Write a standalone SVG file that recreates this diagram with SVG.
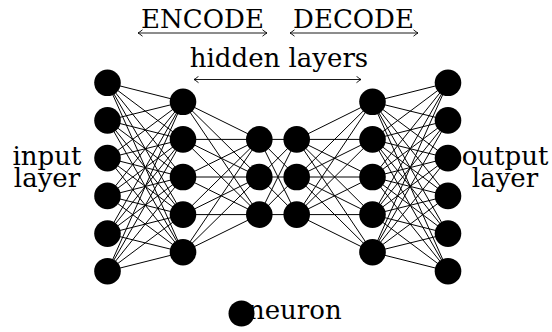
<svg xmlns="http://www.w3.org/2000/svg" width="552" height="332" viewBox="0 0 552 332">
  <style>
    .lbl { font-family: "DejaVu Serif", "Liberation Serif", serif; font-size: 26px; fill: #000; }
    .mid { text-anchor: middle; }
    .edge line { stroke: #000; stroke-width: 1; }
    .neuron { fill: #000; }
    .span { stroke: #000; stroke-width: 0.9; fill: none; marker-start: url(#tip); marker-end: url(#tip); }
  </style>
  <defs>
    <marker id="tip" markerUnits="userSpaceOnUse" viewBox="-6 -4 7 8" refX="0" refY="0" markerWidth="7" markerHeight="8" orient="auto-start-reverse">
      <path d="M-4.5,-3.2 Q-1.5,-0.8 0,0 Q-1.5,0.8 -4.5,3.2" fill="none" stroke="#000" stroke-width="0.9"/>
    </marker>
  </defs>

  <!-- section labels with span arrows -->
  <g id="label-encode">
    <text class="lbl mid" x="202.5" y="28">ENCODE</text>
    <path class="span" d="M138,33 H267"/>
  </g>
  <g id="label-decode">
    <text class="lbl mid" x="353.5" y="28">DECODE</text>
    <path class="span" d="M290,33 H418"/>
  </g>
  <g id="label-hidden">
    <text class="lbl mid" x="279" y="66.5">hidden layers</text>
    <path class="span" d="M194,79.5 H361"/>
  </g>
  <g id="label-input">
    <text class="lbl mid" x="47" y="165">input</text>
    <text class="lbl mid" x="47" y="186.7">layer</text>
  </g>
  <g id="label-output">
    <text class="lbl mid" x="505" y="165">output</text>
    <text class="lbl mid" x="505" y="186.7">layer</text>
  </g>

  <!-- full connections between consecutive layers -->
  <g id="connectors" class="edge">
    <!-- input (6) to hidden 1 (5) -->
    <line x1="107.5" y1="82.8" x2="183" y2="101.8"/><line x1="107.5" y1="82.8" x2="183" y2="139.4"/><line x1="107.5" y1="82.8" x2="183" y2="177"/><line x1="107.5" y1="82.8" x2="183" y2="214.6"/><line x1="107.5" y1="82.8" x2="183" y2="252.2"/>
    <line x1="107.5" y1="120.4" x2="183" y2="101.8"/><line x1="107.5" y1="120.4" x2="183" y2="139.4"/><line x1="107.5" y1="120.4" x2="183" y2="177"/><line x1="107.5" y1="120.4" x2="183" y2="214.6"/><line x1="107.5" y1="120.4" x2="183" y2="252.2"/>
    <line x1="107.5" y1="158.1" x2="183" y2="101.8"/><line x1="107.5" y1="158.1" x2="183" y2="139.4"/><line x1="107.5" y1="158.1" x2="183" y2="177"/><line x1="107.5" y1="158.1" x2="183" y2="214.6"/><line x1="107.5" y1="158.1" x2="183" y2="252.2"/>
    <line x1="107.5" y1="195.9" x2="183" y2="101.8"/><line x1="107.5" y1="195.9" x2="183" y2="139.4"/><line x1="107.5" y1="195.9" x2="183" y2="177"/><line x1="107.5" y1="195.9" x2="183" y2="214.6"/><line x1="107.5" y1="195.9" x2="183" y2="252.2"/>
    <line x1="107.5" y1="233.6" x2="183" y2="101.8"/><line x1="107.5" y1="233.6" x2="183" y2="139.4"/><line x1="107.5" y1="233.6" x2="183" y2="177"/><line x1="107.5" y1="233.6" x2="183" y2="214.6"/><line x1="107.5" y1="233.6" x2="183" y2="252.2"/>
    <line x1="107.5" y1="271.2" x2="183" y2="101.8"/><line x1="107.5" y1="271.2" x2="183" y2="139.4"/><line x1="107.5" y1="271.2" x2="183" y2="177"/><line x1="107.5" y1="271.2" x2="183" y2="214.6"/><line x1="107.5" y1="271.2" x2="183" y2="252.2"/>
    <!-- hidden 1 (5) to hidden 2 (3) -->
    <line x1="183" y1="101.8" x2="259.3" y2="139.4"/><line x1="183" y1="101.8" x2="259.3" y2="177"/><line x1="183" y1="101.8" x2="259.3" y2="214.6"/>
    <line x1="183" y1="139.4" x2="259.3" y2="139.4"/><line x1="183" y1="139.4" x2="259.3" y2="177"/><line x1="183" y1="139.4" x2="259.3" y2="214.6"/>
    <line x1="183" y1="177" x2="259.3" y2="139.4"/><line x1="183" y1="177" x2="259.3" y2="177"/><line x1="183" y1="177" x2="259.3" y2="214.6"/>
    <line x1="183" y1="214.6" x2="259.3" y2="139.4"/><line x1="183" y1="214.6" x2="259.3" y2="177"/><line x1="183" y1="214.6" x2="259.3" y2="214.6"/>
    <line x1="183" y1="252.2" x2="259.3" y2="139.4"/><line x1="183" y1="252.2" x2="259.3" y2="177"/><line x1="183" y1="252.2" x2="259.3" y2="214.6"/>
    <!-- hidden 2 (3) to hidden 3 (3) -->
    <line x1="259.3" y1="139.4" x2="296.7" y2="139.4"/><line x1="259.3" y1="139.4" x2="296.7" y2="177"/><line x1="259.3" y1="139.4" x2="296.7" y2="214.6"/>
    <line x1="259.3" y1="177" x2="296.7" y2="139.4"/><line x1="259.3" y1="177" x2="296.7" y2="177"/><line x1="259.3" y1="177" x2="296.7" y2="214.6"/>
    <line x1="259.3" y1="214.6" x2="296.7" y2="139.4"/><line x1="259.3" y1="214.6" x2="296.7" y2="177"/><line x1="259.3" y1="214.6" x2="296.7" y2="214.6"/>
    <!-- hidden 3 (3) to hidden 4 (5) -->
    <line x1="296.7" y1="139.4" x2="372.5" y2="101.8"/><line x1="296.7" y1="139.4" x2="372.5" y2="139.4"/><line x1="296.7" y1="139.4" x2="372.5" y2="177"/><line x1="296.7" y1="139.4" x2="372.5" y2="214.6"/><line x1="296.7" y1="139.4" x2="372.5" y2="252.2"/>
    <line x1="296.7" y1="177" x2="372.5" y2="101.8"/><line x1="296.7" y1="177" x2="372.5" y2="139.4"/><line x1="296.7" y1="177" x2="372.5" y2="177"/><line x1="296.7" y1="177" x2="372.5" y2="214.6"/><line x1="296.7" y1="177" x2="372.5" y2="252.2"/>
    <line x1="296.7" y1="214.6" x2="372.5" y2="101.8"/><line x1="296.7" y1="214.6" x2="372.5" y2="139.4"/><line x1="296.7" y1="214.6" x2="372.5" y2="177"/><line x1="296.7" y1="214.6" x2="372.5" y2="214.6"/><line x1="296.7" y1="214.6" x2="372.5" y2="252.2"/>
    <!-- hidden 4 (5) to output (6) -->
    <line x1="372.5" y1="101.8" x2="448" y2="82.8"/><line x1="372.5" y1="101.8" x2="448" y2="120.4"/><line x1="372.5" y1="101.8" x2="448" y2="158.1"/><line x1="372.5" y1="101.8" x2="448" y2="195.9"/><line x1="372.5" y1="101.8" x2="448" y2="233.6"/><line x1="372.5" y1="101.8" x2="448" y2="271.2"/>
    <line x1="372.5" y1="139.4" x2="448" y2="82.8"/><line x1="372.5" y1="139.4" x2="448" y2="120.4"/><line x1="372.5" y1="139.4" x2="448" y2="158.1"/><line x1="372.5" y1="139.4" x2="448" y2="195.9"/><line x1="372.5" y1="139.4" x2="448" y2="233.6"/><line x1="372.5" y1="139.4" x2="448" y2="271.2"/>
    <line x1="372.5" y1="177" x2="448" y2="82.8"/><line x1="372.5" y1="177" x2="448" y2="120.4"/><line x1="372.5" y1="177" x2="448" y2="158.1"/><line x1="372.5" y1="177" x2="448" y2="195.9"/><line x1="372.5" y1="177" x2="448" y2="233.6"/><line x1="372.5" y1="177" x2="448" y2="271.2"/>
    <line x1="372.5" y1="214.6" x2="448" y2="82.8"/><line x1="372.5" y1="214.6" x2="448" y2="120.4"/><line x1="372.5" y1="214.6" x2="448" y2="158.1"/><line x1="372.5" y1="214.6" x2="448" y2="195.9"/><line x1="372.5" y1="214.6" x2="448" y2="233.6"/><line x1="372.5" y1="214.6" x2="448" y2="271.2"/>
    <line x1="372.5" y1="252.2" x2="448" y2="82.8"/><line x1="372.5" y1="252.2" x2="448" y2="120.4"/><line x1="372.5" y1="252.2" x2="448" y2="158.1"/><line x1="372.5" y1="252.2" x2="448" y2="195.9"/><line x1="372.5" y1="252.2" x2="448" y2="233.6"/><line x1="372.5" y1="252.2" x2="448" y2="271.2"/>
  </g>

  <!-- input layer -->
  <g id="in-1"><circle class="neuron" cx="107.5" cy="82.8" r="13.3"/></g>
  <g id="in-2"><circle class="neuron" cx="107.5" cy="120.4" r="13.3"/></g>
  <g id="in-3"><circle class="neuron" cx="107.5" cy="158.1" r="13.3"/></g>
  <g id="in-4"><circle class="neuron" cx="107.5" cy="195.9" r="13.3"/></g>
  <g id="in-5"><circle class="neuron" cx="107.5" cy="233.6" r="13.3"/></g>
  <g id="in-6"><circle class="neuron" cx="107.5" cy="271.2" r="13.3"/></g>
  <!-- encoder hidden layer -->
  <g id="h1-1"><circle class="neuron" cx="183" cy="101.8" r="13.3"/></g>
  <g id="h1-2"><circle class="neuron" cx="183" cy="139.4" r="13.3"/></g>
  <g id="h1-3"><circle class="neuron" cx="183" cy="177" r="13.3"/></g>
  <g id="h1-4"><circle class="neuron" cx="183" cy="214.6" r="13.3"/></g>
  <g id="h1-5"><circle class="neuron" cx="183" cy="252.2" r="13.3"/></g>
  <!-- bottleneck layers -->
  <g id="h2-1"><circle class="neuron" cx="259.3" cy="139.4" r="13.3"/></g>
  <g id="h2-2"><circle class="neuron" cx="259.3" cy="177" r="13.3"/></g>
  <g id="h2-3"><circle class="neuron" cx="259.3" cy="214.6" r="13.3"/></g>
  <g id="h3-1"><circle class="neuron" cx="296.7" cy="139.4" r="13.3"/></g>
  <g id="h3-2"><circle class="neuron" cx="296.7" cy="177" r="13.3"/></g>
  <g id="h3-3"><circle class="neuron" cx="296.7" cy="214.6" r="13.3"/></g>
  <!-- decoder hidden layer -->
  <g id="h4-1"><circle class="neuron" cx="372.5" cy="101.8" r="13.3"/></g>
  <g id="h4-2"><circle class="neuron" cx="372.5" cy="139.4" r="13.3"/></g>
  <g id="h4-3"><circle class="neuron" cx="372.5" cy="177" r="13.3"/></g>
  <g id="h4-4"><circle class="neuron" cx="372.5" cy="214.6" r="13.3"/></g>
  <g id="h4-5"><circle class="neuron" cx="372.5" cy="252.2" r="13.3"/></g>
  <!-- output layer -->
  <g id="out-1"><circle class="neuron" cx="448" cy="82.8" r="13.3"/></g>
  <g id="out-2"><circle class="neuron" cx="448" cy="120.4" r="13.3"/></g>
  <g id="out-3"><circle class="neuron" cx="448" cy="158.1" r="13.3"/></g>
  <g id="out-4"><circle class="neuron" cx="448" cy="195.9" r="13.3"/></g>
  <g id="out-5"><circle class="neuron" cx="448" cy="233.6" r="13.3"/></g>
  <g id="out-6"><circle class="neuron" cx="448" cy="271.2" r="13.3"/></g>

  <!-- legend -->
  <g id="legend-neuron">
    <text class="lbl" x="341.7" y="319.3" text-anchor="end">neuron</text>
    <circle class="neuron" cx="241.5" cy="313.5" r="13"/>
  </g>
</svg>
